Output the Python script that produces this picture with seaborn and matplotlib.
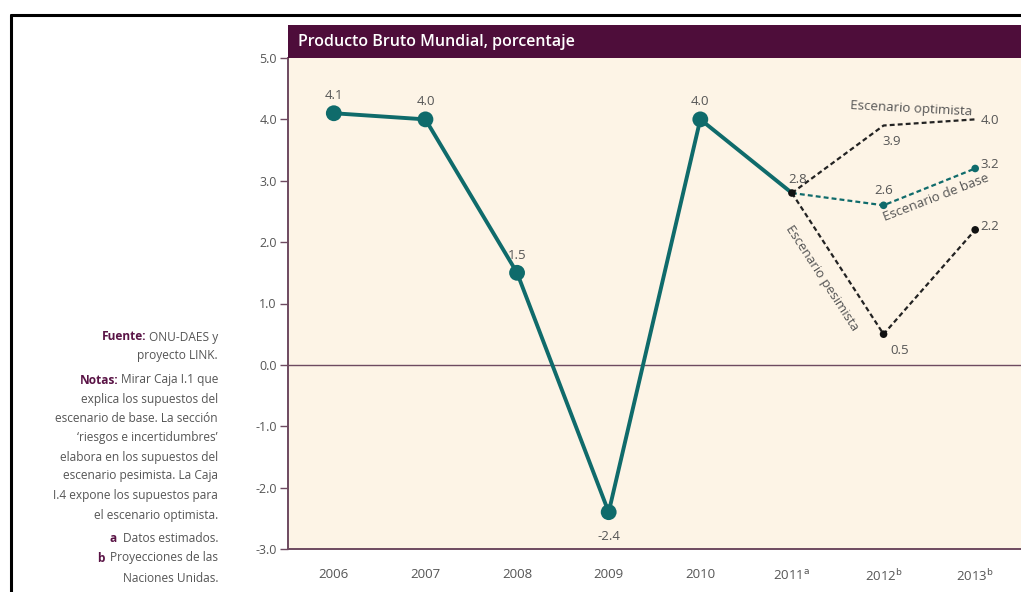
import matplotlib
matplotlib.use("Agg")
import matplotlib.pyplot as plt
from matplotlib.lines import Line2D
from matplotlib.patches import Rectangle
import seaborn as sns
import pandas as pd

# ---- data ----
years = ["2006", "2007", "2008", "2009", "2010", r"2011$^{\mathrm{a}}$", r"2012$^{\mathrm{b}}$", r"2013$^{\mathrm{b}}$"]
hist_values = [4.1, 4.0, 1.5, -2.4, 4.0, 2.8]          # 2006 .. 2011
base_values = [2.8, 2.6, 3.2]                           # 2011 .. 2013
optimista_values = [2.8, 3.9, 4.0]
pesimista_values = [2.8, 0.5, 2.2]
yticks = [-3.0, -2.0, -1.0, 0.0, 1.0, 2.0, 3.0, 4.0, 5.0]
title = "Producto Bruto Mundial, porcentaje"

sns.set_theme(style="white")
plt.rcParams["font.family"] = ["Open Sans", "DejaVu Sans"]

TEAL = "#0f6b6b"
PURPLE = "#4e0d3a"
SPINE = "#6e4a60"
TXT = "#555555"
BG = "#fdf4e6"

fig = plt.figure(figsize=(10.21, 5.92), dpi=100)
ax = fig.add_axes([288 / 1021, 1 - 549 / 592, 1 - 288 / 1021, (549 - 58) / 592])
ax.set_facecolor(BG)

hist_x = list(range(len(hist_values)))
scen_x = [5, 6, 7]
df_hist = pd.DataFrame({"x": hist_x, "y": hist_values})

# main solid line
sns.lineplot(data=df_hist, x="x", y="y", ax=ax, color=TEAL, linewidth=2.8, zorder=3)
sns.scatterplot(x=hist_x[:5], y=hist_values[:5], ax=ax, color=TEAL, s=130, edgecolor="none", zorder=4)

# scenarios
dash = (2.2, 1.4)
sns.lineplot(x=scen_x, y=optimista_values, ax=ax, color="#222222", linewidth=1.6, zorder=3)
ax.lines[-1].set_linestyle((0, dash))
sns.lineplot(x=scen_x, y=base_values, ax=ax, color=TEAL, linewidth=1.6, zorder=3)
ax.lines[-1].set_linestyle((0, dash))
sns.lineplot(x=scen_x, y=pesimista_values, ax=ax, color="#222222", linewidth=1.6, zorder=3)
ax.lines[-1].set_linestyle((0, dash))

sns.scatterplot(x=scen_x[1:], y=base_values[1:], ax=ax, color=TEAL, s=30, edgecolor="none", zorder=5)
sns.scatterplot(x=scen_x[1:], y=pesimista_values[1:], ax=ax, color="#111111", s=30, edgecolor="none", zorder=5)
sns.scatterplot(x=[5], y=[hist_values[5]], ax=ax, color="#111111", s=30, edgecolor="none", zorder=5)

# zero line
ax.axhline(0, color=SPINE, linewidth=1.0, zorder=2)

# axes styling
ax.set_xlim(-0.5, 7.5)
ax.set_ylim(-3.0, 5.0)
ax.set_yticks(yticks)
ax.set_yticklabels([f"{v:.1f}" for v in yticks])
ax.set_xticks(range(len(years)))
ax.set_xticklabels(years)
ax.set_xticks([i + 0.5 for i in range(len(years) - 1)], minor=True)
ax.tick_params(axis="x", which="major", length=0, pad=14, labelsize=9.5, labelcolor=TXT)
ax.tick_params(axis="x", which="minor", length=6, width=1, color=SPINE, direction="out")
ax.tick_params(axis="y", which="major", length=6, width=1, color=SPINE, direction="out",
               labelsize=9, labelcolor=TXT, pad=2, left=True)
ax.set_xlabel("")
ax.set_ylabel("")
for s in ["top", "right"]:
    ax.spines[s].set_visible(False)
for s in ["left", "bottom"]:
    ax.spines[s].set_color(SPINE)
    ax.spines[s].set_linewidth(1.4)

# value labels
lab = dict(fontsize=9.5, color=TXT, textcoords="offset points")
offs = [(0, 10), (0, 10), (0, 10), (0, -20), (0, 10), (4, 7)]
for x, y, o in zip(hist_x, hist_values, offs):
    ax.annotate(f"{y:.1f}", (x, y), xytext=o, ha="center", **lab)
ax.annotate(f"{optimista_values[1]:.1f}", (6, optimista_values[1]), xytext=(6, -14), ha="center", **lab)
ax.annotate(f"{optimista_values[2]:.1f}", (7, optimista_values[2]), xytext=(4, -3), ha="left", **lab)
ax.annotate(f"{base_values[1]:.1f}", (6, base_values[1]), xytext=(0, 8), ha="center", **lab)
ax.annotate(f"{base_values[2]:.1f}", (7, base_values[2]), xytext=(4, 0), ha="left", **lab)
ax.annotate(f"{pesimista_values[1]:.1f}", (6, pesimista_values[1]), xytext=(5, -14), ha="left", **lab)
ax.annotate(f"{pesimista_values[2]:.1f}", (7, pesimista_values[2]), xytext=(4, 0), ha="left", **lab)

# scenario names
ax.text(6.3, 4.18, "Escenario optimista", fontsize=9.5, color=TXT, rotation=-3, ha="center", va="center")
ax.text(6.57, 2.72, "Escenario de base", fontsize=9.5, color=TXT, rotation=21, ha="center", va="center",
        rotation_mode="anchor")
ax.text(5.33, 1.42, "Escenario pesimista", fontsize=9.5, color=TXT, rotation=-57, ha="center", va="center",
        rotation_mode="anchor")

# title band
fig.add_artist(Rectangle((288 / 1021, 1 - 58 / 592), 1 - 288 / 1021, 33 / 592, transform=fig.transFigure,
                         facecolor=PURPLE, edgecolor="none"))
fig.text(298 / 1021, 1 - 42 / 592, title, color="white", fontsize=11.5, fontweight="semibold",
         va="center", ha="left")

# outer frame
fig.add_artist(Line2D([11 / 1021, 11 / 1021], [0, 1 - 15 / 592], transform=fig.transFigure, color="black", lw=2.2))
fig.add_artist(Line2D([11 / 1021, 1], [1 - 15 / 592, 1 - 15 / 592], transform=fig.transFigure, color="black", lw=2.2))

# side notes
NOTE = "#555555"
BOLD = "#5a1446"
notes = [
    ("Fuente:", "ONU-DAES y", 337, -2),
    ("", "proyecto LINK.", 356, 0),
    ("Notas:", "Mirar Caja I.1 que", 380, -1.5),
    ("", "explica los supuestos del", 399, 0),
    ("", "escenario de base. La sección", 418, 0),
    ("", "\u2018riesgos e incertidumbres\u2019", 437, 0),
    ("", "elabora en los supuestos del", 457, 0),
    ("", "escenario pesimista. La Caja", 476, 0),
    ("", "I.4 expone los supuestos para", 496, 0),
    ("", "el escenario optimista.", 515, 0),
    ("a", "Datos estimados.", 539, -4),
    ("b", "Proyecciones de las", 558, -4),
    ("", "Naciones Unidas.", 578, 0),
]
for b, t, ypx, gap in notes:
    tt = fig.text(218 / 1021, 1 - ypx / 592, t, fontsize=8.6, color=NOTE, ha="right", va="center")
    if b:
        ax.annotate(b, xy=(0, 0.5), xycoords=tt, xytext=(gap, 0), textcoords="offset points",
                    ha="right", va="center", fontsize=8.6,
                    fontweight="bold", color=BOLD, annotation_clip=False)

fig.savefig("out.png", dpi=100, facecolor="white")
